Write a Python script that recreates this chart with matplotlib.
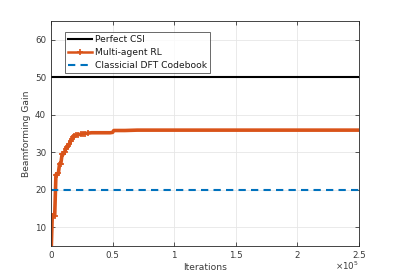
import matplotlib
matplotlib.use("Agg")
import matplotlib.pyplot as plt
import matplotlib.ticker as mticker

# Data
iterations = [0, 1000, 2000, 3000, 4000, 5000, 6000, 7000, 8000, 9000, 10000,
              11000, 12000, 13000, 14000, 15000, 16000, 17000, 18000, 19000,
              20000, 22000, 24000, 26000, 28000, 30000, 33000, 36000, 40000,
              44000, 48000, 50000, 51000, 55000, 60000, 70000, 80000, 100000,
              120000, 140000, 160000, 180000, 200000, 220000, 240000, 250000]
rl_gain = [2, 13, 13, 13, 24, 24, 24.5, 27, 27, 29.5, 29.5,
           30, 31, 31.3, 31.8, 32.3, 33, 33.5, 34, 34.3,
           34.5, 34.7, 34.8, 34.9, 35.0, 35.1, 35.2, 35.2, 35.2,
           35.2, 35.2, 35.3, 35.8, 35.8, 35.8, 35.9, 35.9, 35.9,
           35.9, 35.9, 35.9, 35.9, 35.9, 35.9, 35.9, 35.9]
perfect_csi = 50
dft_gain = 20
x_range = [0, 250000]
labels = ["Perfect CSI", "Multi-agent RL", "Classicial DFT Codebook"]

TXT = "#3a3a3a"
fig = plt.figure(figsize=(3.97, 2.77), dpi=100)
ax = fig.add_axes([51/397, 31/277, 308/397, 225/277])

ax.plot(x_range, [perfect_csi, perfect_csi], color="black", lw=1.5, label=labels[0])
ax.plot(iterations, rl_gain, color="#D95319", lw=2.6, marker="+", ms=5, mew=1.2,
        markevery=list(range(0, 26)), label=labels[1])
ax.plot(x_range, [dft_gain, dft_gain], color="#0072BD", lw=1.5, ls=(0, (3.5, 2.5)), label=labels[2])

ax.set_xlim(0, 250000)
ax.set_ylim(5, 65)
ax.set_yticks([10, 20, 30, 40, 50, 60])
ax.set_xticks([0, 50000, 100000, 150000, 200000, 250000])
ax.xaxis.set_major_formatter(mticker.FuncFormatter(lambda v, p: ("%g" % (v / 1e5))))
ax.grid(True, color="#e6e6e6", lw=0.6)
ax.set_axisbelow(True)
ax.tick_params(direction="in", length=3, labelsize=6.3, colors=TXT, top=True, right=True,
               labeltop=False, labelright=False, width=0.6)
for s in ax.spines.values():
    s.set_color("#262626")
    s.set_linewidth(0.6)
ax.set_xlabel("Iterations", fontsize=6.6, color=TXT, labelpad=2)
ax.set_ylabel("Beamforming Gain", fontsize=6.6, color=TXT, labelpad=3)
fig.text(359/397, 5/277, r"$\times10^5$", fontsize=6.3, color=TXT, ha="right", va="bottom")

leg = ax.legend(loc="upper left", fontsize=6.6, frameon=True, fancybox=False, edgecolor="#262626",
                borderpad=0.3, handlelength=2.7, labelspacing=0.42, handletextpad=0.3,
                bbox_to_anchor=(0.03, 0.97))
leg.get_frame().set_linewidth(0.6)
leg.get_lines()[1].set_linewidth(1.8)
for t in leg.get_texts():
    t.set_color("#1a1a1a")

fig.savefig("out.png", dpi=100)
